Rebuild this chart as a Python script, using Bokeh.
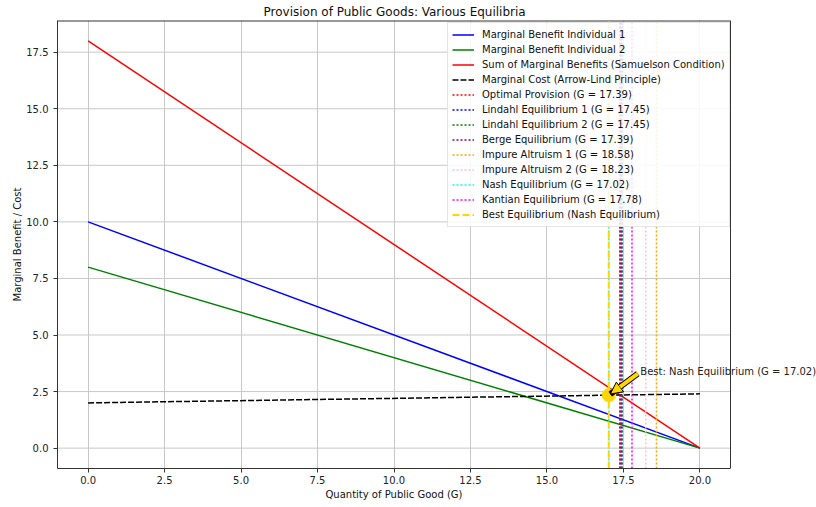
from bokeh.plotting import figure
from bokeh.models import (Range1d, FixedTicker, NumeralTickFormatter, Legend, LegendItem,
                          Label, Arrow, NormalHead, Span)
from bokeh.embed import file_html
from bokeh.resources import INLINE

# ---- data ----
g = [0, 20]
mb1 = [10.0, 0.0]
mb2 = [8.0, 0.0]
mb_sum = [18.0, 0.0]
mc = [2.0, 2.4]

eq_names = ["Optimal Provision", "Lindahl Equilibrium 1", "Lindahl Equilibrium 2",
            "Berge Equilibrium", "Impure Altruism 1", "Impure Altruism 2",
            "Nash Equilibrium", "Kantian Equilibrium"]
eq_values = [17.39, 17.45, 17.45, 17.39, 18.58, 18.23, 17.02, 17.78]
eq_colors = ["#ff0000", "#0000ff", "#008000", "#800080", "#ffa500", "#ffc0cb",
             "#00ffff", "#ff00ff"]

best_name = "Nash Equilibrium"
best_g = 17.02
best_mc = 2.34

x_ticks = [0, 2.5, 5, 7.5, 10, 12.5, 15, 17.5, 20]
y_ticks = [0, 2.5, 5, 7.5, 10, 12.5, 15, 17.5]

FONT = "DejaVu Sans"
x_lo, x_hi = -1.0, 21.0
y_lo, y_hi = -0.9, 18.9

# layout (pixels)
W, H = 816, 507
AX_LEFT, AX_W = 57, 673          # visible axes box
EXTRA_R = W - AX_LEFT - AX_W      # room right of the box (frame extends there, unclipped text)
x_view_hi = x_hi + (x_hi - x_lo) * EXTRA_R / AX_W

p = figure(width=W, height=H, output_backend="svg", toolbar_location=None,
           x_range=Range1d(x_lo, x_view_hi), y_range=Range1d(y_lo, y_hi),
           min_border_left=AX_LEFT, min_border_right=0, min_border_top=20, min_border_bottom=39,
           title="Provision of Public Goods: Various Equilibria")
p.title.text_font = FONT
p.title.text_font_size = "12px"
p.title.text_font_style = "normal"
p.title.align = "left"
p.title.offset = 206
p.title.standoff = 3
p.title.text_color = "#111111"

for ax in (p.xaxis[0], p.yaxis[0]):
    ax.major_label_text_font = FONT
    ax.major_label_text_font_size = "10px"
    ax.major_label_text_color = "#222222"
    ax.axis_label_text_font = FONT
    ax.axis_label_text_font_size = "10px"
    ax.axis_label_text_font_style = "normal"
    ax.axis_label_text_color = "#111111"
    ax.minor_tick_line_color = None
    ax.major_tick_in = 0
    ax.major_tick_out = 4
    ax.axis_line_color = "#333333"
    ax.major_tick_line_color = "#333333"
    ax.formatter = NumeralTickFormatter(format="0.0")

p.xaxis[0].ticker = FixedTicker(ticks=x_ticks)
p.yaxis[0].ticker = FixedTicker(ticks=y_ticks)
p.xaxis[0].bounds = (x_lo, x_hi)
p.xaxis[0].major_label_standoff = 3
p.yaxis[0].axis_label = "Marginal Benefit / Cost"
p.yaxis[0].axis_label_standoff = 0

# x-axis title centred under the axes box (side panel: not clipped)
p.add_layout(Label(x=(x_lo + x_hi) / 2, y=y_lo, text="Quantity of Public Good (G)",
                   text_font=FONT, text_font_size="10px", text_color="#111111",
                   text_align="center", text_baseline="middle", y_offset=-26), "below")

p.xgrid.ticker = FixedTicker(ticks=x_ticks)
p.xgrid.grid_line_color = "#c8c8c8"
p.ygrid.grid_line_color = None
# horizontal grid lines limited to the axes box
p.segment(x0=[x_lo] * len(y_ticks), x1=[x_hi] * len(y_ticks), y0=y_ticks, y1=y_ticks,
          line_color="#c8c8c8", line_width=1, level="underlay")
p.outline_line_color = None
# box spines: top and right (left/bottom come from axes)
p.segment(x0=[x_lo], x1=[x_hi], y0=[y_hi], y1=[y_hi], line_color="#333333", line_width=2)
p.add_layout(Span(location=x_hi, dimension="height", line_color="#333333", line_width=1))

items = []
r = p.line(g, mb1, line_color="#0000ff", line_width=1.5)
items.append(LegendItem(label="Marginal Benefit Individual 1", renderers=[r]))
r = p.line(g, mb2, line_color="#008000", line_width=1.5)
items.append(LegendItem(label="Marginal Benefit Individual 2", renderers=[r]))
r = p.line(g, mb_sum, line_color="#ff0000", line_width=1.5)
items.append(LegendItem(label="Sum of Marginal Benefits (Samuelson Condition)", renderers=[r]))
r = p.line(g, mc, line_color="#000000", line_width=1.5, line_dash="6 2")
items.append(LegendItem(label="Marginal Cost (Arrow-Lind Principle)", renderers=[r]))

for name, val, col in zip(eq_names, eq_values, eq_colors):
    r = p.segment(x0=[val], y0=[y_lo], x1=[val], y1=[y_hi], line_color=col,
                  line_width=1.5, line_dash="2 2")
    items.append(LegendItem(label=f"{name} (G = {val:.2f})", renderers=[r]))

r = p.segment(x0=[best_g], y0=[y_lo], x1=[best_g], y1=[y_hi], line_color="#ffd700",
              line_width=2, line_dash="7 3")
items.append(LegendItem(label=f"Best Equilibrium ({best_name})", renderers=[r]))

p.scatter([best_g], [best_mc], size=13, fill_color="#ffd700", line_color="#ffd700")

# annotation arrow (shrunk 5% at both ends like matplotlib)
tx, ty = best_g + 1.0, best_mc + 1.0
sx = tx + 0.05 * (best_g - tx)
sy = ty + 0.05 * (best_mc - ty)
ex = best_g - 0.05 * (best_g - tx)
ey = best_mc - 0.05 * (best_mc - ty)
p.add_layout(Arrow(x_start=sx, y_start=sy, x_end=ex, y_end=ey, line_color="#000000",
                   line_width=6, end=None))
p.add_layout(Arrow(x_start=sx, y_start=sy, x_end=ex, y_end=ey, line_color="#ffd700",
                   line_width=4,
                   end=NormalHead(size=12, fill_color="#ffd700", line_color="#000000",
                                  line_width=1)))
p.add_layout(Label(x=tx, y=ty, text=f"Best: {best_name} (G = {best_g:.2f})",
                   text_font=FONT, text_font_size="10px", text_color="#222222",
                   text_baseline="alphabetic", x_offset=1, y_offset=1))

legend = Legend(items=items, location=(390, 241))
legend.label_text_font = FONT
legend.label_text_font_size = "10px"
legend.label_text_color = "#111111"
legend.label_height = 15
legend.glyph_height = 15
legend.glyph_width = 22
legend.label_standoff = 8
legend.spacing = 0
legend.padding = 4
legend.margin = 0
legend.border_line_color = "#cccccc"
legend.border_line_width = 1
legend.background_fill_alpha = 0.85
p.add_layout(legend)

open("out.html", "w").write(file_html(p, INLINE))
